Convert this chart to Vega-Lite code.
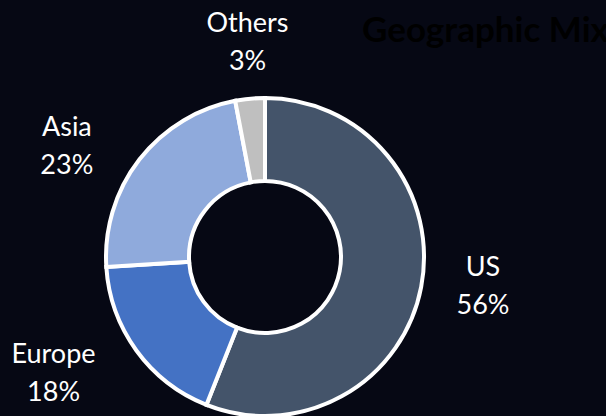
{
  "$schema": "https://vega.github.io/schema/vega-lite/v6.json",
  "width": 530,
  "height": 318,
  "autosize": {"type": "none"},
  "padding": {"left": 0, "top": 98, "right": 76, "bottom": 0},
  "background": "#060814",
  "title": {
    "text": "Geographic Mix",
    "color": "#000000",
    "fontSize": 35,
    "font": "Lato",
    "fontWeight": "bold",
    "anchor": "start",
    "frame": "group",
    "offset": 0,
    "baseline": "alphabetic",
    "dx": 362,
    "dy": 97
  },
  "data": {
    "values": [
      {"region": "US", "share": 56, "label": "US\n56%", "order": 1},
      {"region": "Europe", "share": 18, "label": "Europe\n18%", "order": 2},
      {"region": "Asia", "share": 23, "label": "Asia\n23%", "order": 3},
      {"region": "Others", "share": 3, "label": "Others\n3%", "order": 4}
    ]
  },
  "config": {"view": {"stroke": null}},
  "encoding": {
    "theta": {"field": "share", "type": "quantitative", "stack": true},
    "order": {"field": "order", "type": "quantitative"}
  },
  "layer": [
    {
      "mark": {"type": "arc", "innerRadius": 76, "outerRadius": 159, "stroke": "#ffffff", "strokeWidth": 4},
      "encoding": {
        "color": {
          "field": "region",
          "type": "nominal",
          "scale": {"domain": ["US", "Europe", "Asia", "Others"], "range": ["#44546a", "#4472c4", "#8faadc", "#bfbfbf"]},
          "legend": null
        }
      }
    },
    {
      "mark": {"type": "text", "radius": 228, "dx": -6, "dy": -32, "fontSize": 27, "font": "Lato", "color": "#ffffff", "lineBreak": "\n", "lineHeight": 38, "baseline": "middle", "align": "center"},
      "encoding": {"text": {"condition": {"test": "datum.region === 'US'", "field": "label"}, "value": ""}}
    },
    {
      "mark": {"type": "text", "radius": 228, "dx": -27, "dy": -36, "fontSize": 27, "font": "Lato", "color": "#ffffff", "lineBreak": "\n", "lineHeight": 38, "baseline": "middle", "align": "center"},
      "encoding": {"text": {"condition": {"test": "datum.region === 'Europe'", "field": "label"}, "value": ""}}
    },
    {
      "mark": {"type": "text", "radius": 228, "dx": -18, "dy": 11, "fontSize": 27, "font": "Lato", "color": "#ffffff", "lineBreak": "\n", "lineHeight": 38, "baseline": "middle", "align": "center"},
      "encoding": {"text": {"condition": {"test": "datum.region === 'Asia'", "field": "label"}, "value": ""}}
    },
    {
      "mark": {"type": "text", "radius": 228, "dx": 4, "dy": -6, "fontSize": 27, "font": "Lato", "color": "#ffffff", "lineBreak": "\n", "lineHeight": 38, "baseline": "middle", "align": "center"},
      "encoding": {"text": {"condition": {"test": "datum.region === 'Others'", "field": "label"}, "value": ""}}
    }
  ]
}
